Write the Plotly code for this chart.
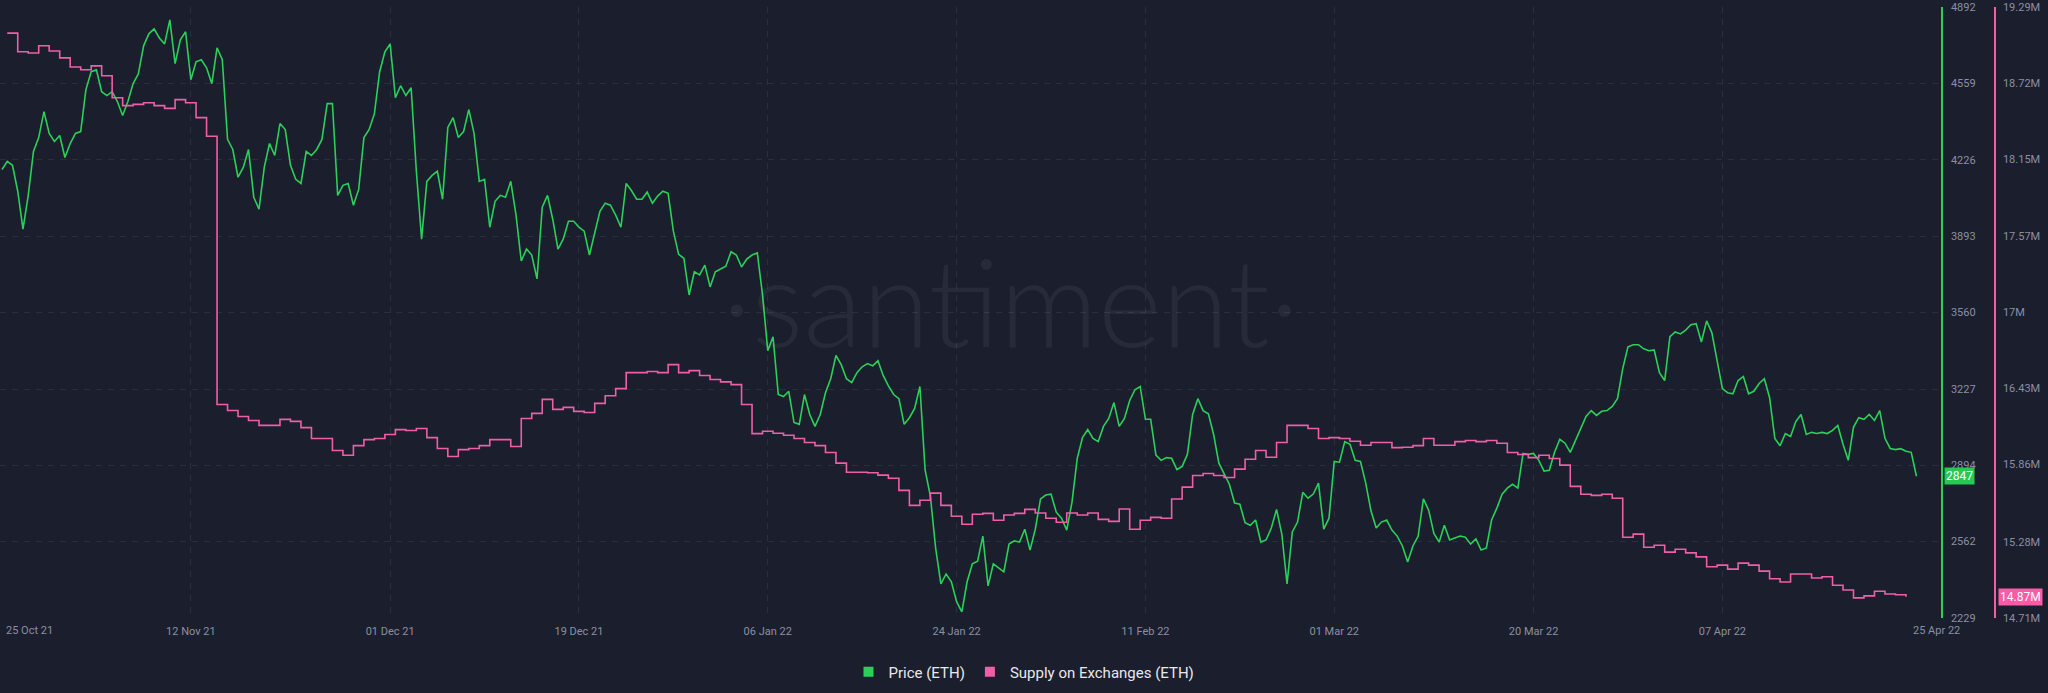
import pandas as pd
import plotly.graph_objects as go

# ---------------- data ----------------
price_start = "2021-10-25 00:00"   # 12-hourly samples
price_eth = [
    4184, 4219, 4202, 4089, 3924, 4071, 4262, 4323, 4436, 4341,
    4306, 4332, 4236, 4297, 4341, 4349, 4532, 4610, 4618, 4523,
    4506, 4523, 4480, 4419, 4480, 4558, 4601, 4723, 4775, 4797,
    4757, 4731, 4836, 4645, 4749, 4784, 4575, 4653, 4662, 4627,
    4558, 4714, 4662, 4315, 4271, 4150, 4193, 4271, 4063, 4011,
    4193, 4297, 4245, 4384, 4358, 4202, 4141, 4123, 4262, 4245,
    4271, 4315, 4471, 4471, 4071,
    4115, 4123, 4028, 4097, 4323, 4358, 4427, 4610, 4697, 4731,
    4497, 4549, 4506, 4540, 4176, 3880, 4132, 4158, 4176, 4054,
    4367, 4410, 4323, 4349, 4445, 4341, 4132, 4141, 3932, 4045,
    4071, 4063, 4132, 3985, 3785, 3837, 3811, 3707, 4019, 4071,
    3967, 3837, 3880, 3958, 3958, 3932, 3915, 3811, 3906, 4002,
    4037, 4028, 3985, 3932, 4123, 4092, 4054, 4054, 4085, 4037, 4068,
    4089, 4080, 3915, 3814, 3797, 3637, 3738, 3724, 3767, 3672,
    3738, 3750, 3762, 3825, 3811, 3759, 3793, 3811, 3820, 3637,
    3394, 3455, 3203, 3194, 3217, 3081, 3073, 3203, 3116, 3064,
    3116, 3211, 3272, 3373, 3333, 3272, 3255, 3298, 3324, 3338,
    3328, 3350, 3286, 3241, 3203, 3185, 3073, 3102, 3142, 3238,
    2873, 2760, 2534, 2378, 2421, 2387, 2300, 2256, 2387, 2465, 2477,
    2586, 2369, 2465, 2447, 2430, 2551, 2565, 2560, 2616, 2525,
    2616, 2748, 2765, 2769, 2690, 2664, 2612, 2734, 2925, 3015,
    3050, 3012, 2998, 3064, 3099, 3168, 3064, 3099, 3177, 3224,
    3238, 3095, 3095, 2939, 2916, 2928, 2925, 2876, 2890, 2942,
    3116, 3185, 3133, 3119, 3029, 2904, 2856, 2812, 2730, 2725,
    2644, 2633, 2656, 2560, 2569, 2621, 2702, 2595, 2378, 2604, 2647,
    2777, 2751, 2769, 2817, 2616, 2664, 2911, 2908, 2998, 2986,
    2916, 2911, 2817, 2696, 2621, 2647, 2656, 2612, 2586, 2543,
    2473, 2543, 2586, 2748, 2699, 2598, 2560, 2633, 2569, 2578,
    2586, 2581, 2551, 2574, 2525, 2534, 2656, 2708, 2769, 2795,
    2812, 2795, 2946, 2942, 2946, 2916, 2869, 2873, 2951, 3008,
    2991, 2951, 3003, 3047, 3107, 3133, 3112, 3130, 3133, 3151, 3185,
    3316, 3411, 3420, 3420, 3402, 3394, 3397, 3298, 3264, 3455,
    3476, 3467, 3484, 3507, 3512, 3432, 3524, 3472, 3350, 3229,
    3211, 3206, 3264, 3281, 3206, 3217, 3251, 3272, 3189, 3012,
    2980, 3033, 3020, 3085, 3116, 3029, 3038, 3033, 3038, 3033,
    3047, 3068, 2986, 2916, 3061, 3102, 3095, 3116, 3090, 3133,
    3012, 2968, 2963, 2967, 2956, 2951, 2847,
]

supply_start = "2021-10-25 12:00"   # daily values, millions of ETH
supply_m = [
    19.094, 18.954, 18.945, 18.999, 18.960, 18.909, 18.840, 18.820, 18.849, 18.775,
    18.610, 18.551, 18.560, 18.572, 18.551, 18.530, 18.596, 18.572, 18.461, 18.321,
    16.310, 16.265, 16.220, 16.190, 16.154, 16.154, 16.199, 16.184, 16.137, 16.056,
    16.056, 15.966, 15.930, 16.002, 16.047, 16.056, 16.086, 16.122, 16.116, 16.130,
    16.062, 15.981, 15.921, 15.972, 15.981, 16.002, 16.047, 16.047, 15.996, 16.205,
    16.244, 16.349, 16.274, 16.289, 16.259, 16.250, 16.319, 16.376, 16.429, 16.549,
    16.549, 16.558, 16.549, 16.609, 16.549, 16.564, 16.528, 16.498, 16.480, 16.459,
    16.310, 16.092, 16.110, 16.095, 16.080, 16.056, 16.026, 16.002, 15.951, 15.871,
    15.802, 15.802, 15.799, 15.781, 15.757, 15.667, 15.554, 15.593, 15.646, 15.554,
    15.473, 15.413, 15.488, 15.494, 15.443, 15.482, 15.494, 15.524, 15.497, 15.458,
    15.428, 15.497, 15.482, 15.497, 15.449, 15.434, 15.527, 15.375, 15.443, 15.464,
    15.458, 15.602, 15.691, 15.778, 15.793, 15.778, 15.763, 15.826, 15.900, 15.966,
    15.915, 16.026, 16.154, 16.154, 16.130, 16.056, 16.062, 16.056, 16.035, 16.005,
    16.026, 16.026, 15.987, 15.990, 16.002, 16.056, 16.005, 16.005, 16.032, 16.041,
    16.032, 16.041, 16.020, 15.951, 15.936, 15.912, 15.930, 15.906, 15.856, 15.697,
    15.638, 15.629, 15.638, 15.608, 15.315, 15.339, 15.240, 15.255, 15.204, 15.225,
    15.198, 15.168, 15.094, 15.106, 15.076, 15.121, 15.106, 15.061, 15.004, 14.980,
    15.040, 15.040, 15.010, 15.019, 14.956, 14.920, 14.861, 14.876, 14.911, 14.890,
    14.884, 14.870,
]

price_ticks = [2229, 2562, 2894, 3227, 3560, 3893, 4226, 4559, 4892]
supply_ticks = [14.71, 15.28, 15.86, 16.43, 17.0, 17.57, 18.15, 18.72, 19.29]
date_ticks = ["2021-11-12", "2021-12-01", "2021-12-19", "2022-01-06", "2022-01-24",
              "2022-02-11", "2022-03-01", "2022-03-20", "2022-04-07"]
date_labels = ["12 Nov 21", "01 Dec 21", "19 Dec 21", "06 Jan 22", "24 Jan 22",
               "11 Feb 22", "01 Mar 22", "20 Mar 22", "07 Apr 22"]
edge_dates = ["2021-10-25", "2022-04-25"]
edge_labels = ["25 Oct 21", "25 Apr 22"]

price_name = "Price (ETH)"
supply_name = "Supply on Exchanges (ETH)"

# ---------------- styling ----------------
BG = "#1b1e2d"
GREEN = "#2ad058"
PINK = "#ee5fa7"
GRID = "#2a2e41"
TICK = "#8b8fa3"
FONT = "Roboto"
W, H = 2048, 693
PLOT_RIGHT = 1941
SUPPLY_AXIS_X = 1995

price_dates = pd.date_range(price_start, periods=len(price_eth), freq="12h")
supply_dates = pd.date_range(supply_start, periods=len(supply_m), freq="D")

fig = go.Figure()
fig.add_trace(go.Scatter(x=supply_dates, y=supply_m, yaxis="y2", mode="lines",
                         line=dict(color=PINK, width=1.6, shape="hv"),
                         name=supply_name, showlegend=False))
fig.add_trace(go.Scatter(x=price_dates, y=price_eth, mode="lines",
                         line=dict(color=GREEN, width=1.6),
                         name=price_name, showlegend=False))
# legend entries (square swatches)
fig.add_trace(go.Scatter(x=[None], y=[None], mode="markers", name=price_name,
                         marker=dict(symbol="square", size=10, color=GREEN)))
fig.add_trace(go.Scatter(x=[None], y=[None], mode="markers", name=supply_name,
                         marker=dict(symbol="square", size=10, color=PINK)))

annotations = []
# watermark
annotations.append(dict(text="·santiment·", xref="paper", yref="paper",
                        x=1010 / W, y=(618 - 300) / 611, xanchor="center", yanchor="middle",
                        showarrow=False,
                        font=dict(family="Lato", size=122, color="rgba(255,255,255,0.055)",
                                  weight=300)))
# edge date labels
for d, lab in zip(edge_dates, edge_labels):
    annotations.append(dict(text=lab, xref="x", yref="paper", x=d, y=-12 / 611,
                            xanchor="left", yanchor="middle", showarrow=False,
                            xshift=2 if lab.startswith("25 Oct") else 0,
                            font=dict(family=FONT, size=11, color=TICK)))
# last value labels
annotations.append(dict(text=f"{price_eth[-1]}", xref="paper", yref="y",
                        x=1944 / W, y=price_eth[-1], xanchor="left", yanchor="middle",
                        showarrow=False, bgcolor="#26c953", borderpad=1,
                        font=dict(family=FONT, size=12, color="white")))
annotations.append(dict(text=f"{supply_m[-1]:.2f}M", xref="paper", yref="y2",
                        x=1998 / W, y=supply_m[-1], xanchor="left", yanchor="middle",
                        showarrow=False, bgcolor="#ff5aa8", borderpad=1,
                        font=dict(family=FONT, size=12, color="white")))

fig.update_layout(
    width=W, height=H,
    paper_bgcolor=BG, plot_bgcolor=BG,
    margin=dict(l=0, r=0, t=7, b=75, autoexpand=False),
    font=dict(family=FONT, color=TICK, size=11),
    xaxis=dict(type="date", domain=[0, PLOT_RIGHT / W],
               range=["2021-10-24 19:25", "2022-04-27 20:10"],
               tickmode="array", tickvals=date_ticks, ticktext=date_labels,
               showgrid=True, gridcolor=GRID, griddash="6px,6px", gridwidth=1,
               zeroline=False, showline=False, ticks="", ticklabelstandoff=5,
               tickfont=dict(family=FONT, size=11, color=TICK), automargin=False),
    yaxis=dict(range=[price_ticks[0], price_ticks[-1]], side="right", anchor="x",
               tickmode="array", tickvals=price_ticks,
               showgrid=True, gridcolor=GRID, griddash="6px,6px", gridwidth=1,
               zeroline=False, showline=True, linecolor=GREEN, linewidth=1.5,
               ticks="", ticklabelstandoff=6,
               tickfont=dict(family=FONT, size=11, color=TICK), automargin=False),
    yaxis2=dict(range=[supply_ticks[0], supply_ticks[-1]], side="right",
                overlaying="y", anchor="free", position=SUPPLY_AXIS_X / W,
                tickmode="array", tickvals=supply_ticks,
                ticktext=[f"{v:g}M" for v in supply_ticks],
                showgrid=False, zeroline=False, showline=True, linecolor=PINK,
                linewidth=1.5, ticks="", ticklabelstandoff=5,
                tickfont=dict(family=FONT, size=11, color=TICK), automargin=False),
    legend=dict(orientation="h", x=0.5, xanchor="center", xref="paper",
                y=(618 - 672) / 611, yanchor="middle",
                font=dict(family=FONT, size=15, color="#e6e8ef"),
                itemwidth=30, bgcolor="rgba(0,0,0,0)"),
    annotations=annotations,
    hovermode=False,
)

fig.write_html("out.html")
